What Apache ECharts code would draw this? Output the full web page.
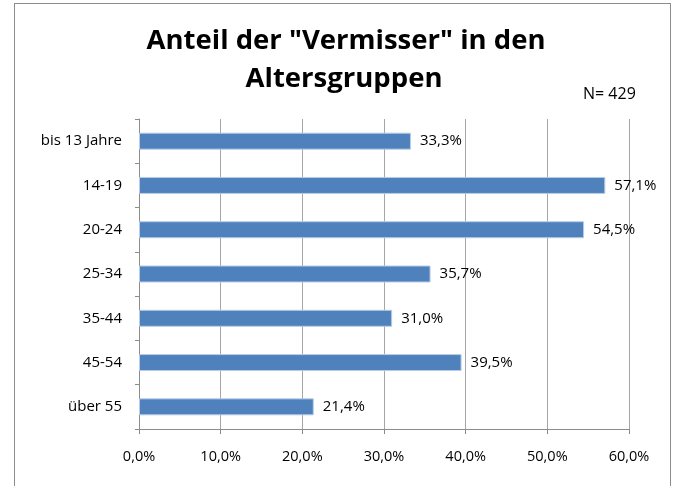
<!DOCTYPE html>
<html>
<head>
<meta charset="utf-8">
<script src="https://cdn.jsdelivr.net/npm/echarts@6/dist/echarts.min.js"></script>
<style>
  html, body { margin: 0; padding: 0; background: #fff; }
  #frame { position: absolute; left: 14px; top: 3px; width: 657px; height: 490px; border: 1px solid #8c8c8c; box-sizing: border-box; }
  #chart { width: 677px; height: 486px; }
</style>
</head>
<body>
<div id="frame"></div>
<div id="chart"></div>
<script>
// Altersgruppen, von oben nach unten
var categories = ['bis 13 Jahre', '14-19', '20-24', '25-34', '35-44', '45-54', 'über 55'];
var shares = [33.3, 57.1, 54.5, 35.7, 31.0, 39.5, 21.4];
var xTicks = [0, 10, 20, 30, 40, 50, 60];
var titleLines = ['Anteil der "Vermisser" in den', 'Altersgruppen'];

var font = 'Open Sans';

function pct(v) {
    return v.toFixed(1).replace('.', ',') + '%';
}

var mychart = echarts.init(document.getElementById('chart'));

var titleStyle = {fontSize: 27.5, fontWeight: 'bold', color: '#000', fontFamily: font};

var option = {
    animation: false,
    textStyle: {fontFamily: font},
    title: [
        {text: titleLines[0], left: 341, top: 22, textAlign: 'center', textStyle: titleStyle},
        {text: titleLines[1], left: 339, top: 60, textAlign: 'center', textStyle: titleStyle},
        {
            text: 'N= 429',
            left: 578,
            top: 81,
            textStyle: {fontSize: 16, fontWeight: 'normal', color: '#000', fontFamily: font}
        }
    ],
    grid: {left: 139, right: 48, top: 119, bottom: 57},
    xAxis: {
        type: 'value',
        min: xTicks[0],
        max: xTicks[xTicks.length - 1],
        interval: 10,
        axisLine: {show: true, lineStyle: {color: '#8c8c8c'}},
        axisTick: {show: true, length: 5, lineStyle: {color: '#8c8c8c'}},
        splitLine: {show: true, lineStyle: {color: '#a6a6a6'}},
        axisLabel: {
            color: '#000', fontSize: 14.5, margin: 20,
            formatter: function (v) { return pct(v); }
        }
    },
    yAxis: {
        type: 'category',
        inverse: true,
        data: categories,
        axisLine: {show: true, lineStyle: {color: '#8c8c8c'}},
        axisTick: {show: true, length: 4, lineStyle: {color: '#8c8c8c'}},
        axisLabel: {color: '#000', fontSize: 15, margin: 17}
    },
    series: [
        {
            type: 'bar',
            data: shares,
            barWidth: 17,
            itemStyle: {color: '#4f81bd', borderColor: '#b9cde5', borderWidth: 1},
            label: {
                show: true,
                position: 'right',
                distance: 9,
                color: '#000',
                fontSize: 15,
                fontFamily: font,
                formatter: function (p) { return pct(p.value); }
            }
        }
    ]
};

mychart.setOption(option);
</script>
</body>
</html>
